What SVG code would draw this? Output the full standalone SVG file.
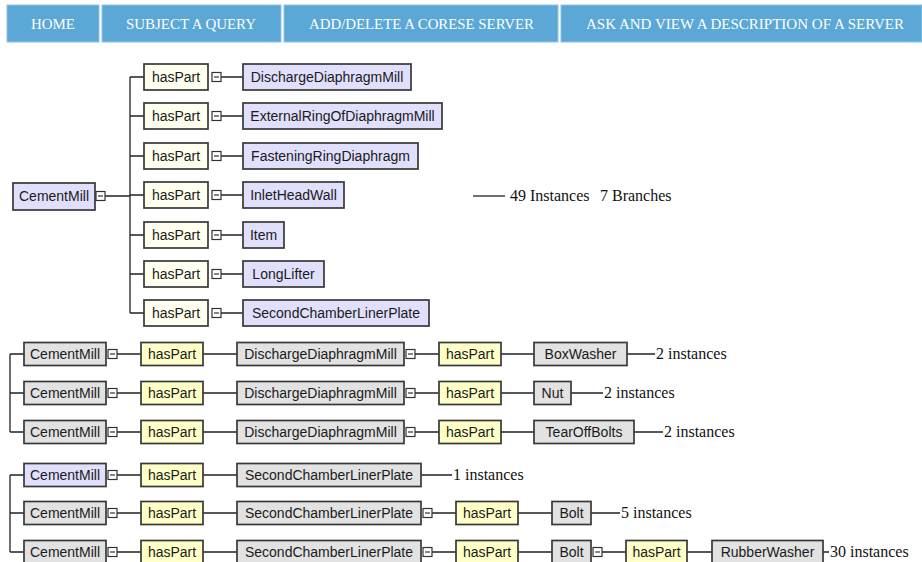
<svg xmlns="http://www.w3.org/2000/svg" width="922" height="562" viewBox="0 0 922 562">
<style>
.nav{fill:#5BA7D5;stroke:#8FC4E6;stroke-width:1}
.navt{font-family:"Liberation Serif","DejaVu Serif",serif;font-size:15px;fill:#fff;text-anchor:middle}
.box{stroke:#383838;stroke-width:1.7}
.cls{fill:#E0E0FC}
.rel{fill:#FFFFF0}
.relY{fill:#FFFFC8}
.gry{fill:#E2E2E2}
.lbl{font-family:"Liberation Sans",Arial,sans-serif;font-size:14px;fill:#1a1a1a;text-anchor:middle}
.cnt{font-family:"Liberation Serif","Times New Roman",serif;font-size:16px;fill:#111}
.ln{stroke:#222;stroke-width:1.3;fill:none}
.tog{fill:#fff;stroke:#333;stroke-width:1.2}
</style>
<defs>
<g id="minus"><rect class="tog" x="0" y="0" width="9" height="9"/><line x1="2" y1="4.5" x2="7" y2="4.5" stroke="#333" stroke-width="1.2"/></g>
</defs>
<rect width="922" height="562" fill="#fff"/>
<g id="navbar">
<rect class="nav" x="7" y="5" width="92" height="37"/>
<rect class="nav" x="102" y="5" width="179" height="37"/>
<rect class="nav" x="284" y="5" width="274" height="37"/>
<rect class="nav" x="561" y="5" width="361" height="37"/>
<text class="navt" x="53" y="29" textLength="44" lengthAdjust="spacingAndGlyphs">HOME</text>
<text class="navt" x="191" y="29" textLength="130" lengthAdjust="spacingAndGlyphs">SUBJECT A QUERY</text>
<text class="navt" x="421.5" y="29" textLength="225" lengthAdjust="spacingAndGlyphs">ADD/DELETE A CORESE SERVER</text>
<text class="navt" x="745" y="29" textLength="318" lengthAdjust="spacingAndGlyphs">ASK AND VIEW A DESCRIPTION OF A SERVER</text>
</g>
<g id="connectors">
<path class="ln" d="M105 196H130M130 77V313M130 77H144M130 116H144M130 156H144M130 195H144M130 235H144M130 274H144M130 313H144"/>
<path class="ln" d="M221 77H243M221 116H243M221 156H243M221 195H243M221 235H243M221 274H243M221 313H243"/>
<path class="ln" d="M473 196H505"/>
<path class="ln" d="M10 354V432M10 354H24M10 393H24M10 432H24"/>
<path class="ln" d="M117 354H141M203 354H237M415 354H439M501 354H534M627 354H655"/>
<path class="ln" d="M117 393H141M203 393H237M415 393H439M501 393H534M571 393H603"/>
<path class="ln" d="M117 432H141M203 432H237M415 432H439M501 432H534M634 432H663"/>
<path class="ln" d="M10 475V552M10 475H24M10 513H24M10 552H24"/>
<path class="ln" d="M117 475H141M203 475H237M421 475H452"/>
<path class="ln" d="M117 513H141M203 513H237M432 513H456M518 513H552M591 513H620"/>
<path class="ln" d="M117 552H141M203 552H237M432 552H456M518 552H552M602 552H626M687 552H712M823 552H829"/>
</g>
<g id="root-cementmill"><rect class="box cls" x="13" y="183" width="82" height="27"/><text class="lbl" x="54" y="201">CementMill</text><use href="#minus" x="96" y="191.5"/></g>
<g id="t-rel1"><rect class="box rel" x="144" y="64" width="64" height="26"/><text class="lbl" x="176" y="82">hasPart</text><use href="#minus" x="212" y="72.5"/></g>
<g id="t-rel2"><rect class="box rel" x="144" y="103" width="64" height="26"/><text class="lbl" x="176" y="121">hasPart</text><use href="#minus" x="212" y="111.5"/></g>
<g id="t-rel3"><rect class="box rel" x="144" y="143" width="64" height="26"/><text class="lbl" x="176" y="161">hasPart</text><use href="#minus" x="212" y="151.5"/></g>
<g id="t-rel4"><rect class="box rel" x="144" y="182" width="64" height="26"/><text class="lbl" x="176" y="200">hasPart</text><use href="#minus" x="212" y="190.5"/></g>
<g id="t-rel5"><rect class="box rel" x="144" y="222" width="64" height="26"/><text class="lbl" x="176" y="240">hasPart</text><use href="#minus" x="212" y="230.5"/></g>
<g id="t-rel6"><rect class="box rel" x="144" y="261" width="64" height="26"/><text class="lbl" x="176" y="279">hasPart</text><use href="#minus" x="212" y="269.5"/></g>
<g id="t-rel7"><rect class="box rel" x="144" y="300" width="64" height="26"/><text class="lbl" x="176" y="318">hasPart</text><use href="#minus" x="212" y="308.5"/></g>
<g id="t-discharge"><rect class="box cls" x="243" y="64" width="168" height="26"/><text class="lbl" x="327" y="82">DischargeDiaphragmMill</text></g>
<g id="t-externalring"><rect class="box cls" x="243" y="103" width="199" height="26"/><text class="lbl" x="342.5" y="121">ExternalRingOfDiaphragmMill</text></g>
<g id="t-fastening"><rect class="box cls" x="243" y="143" width="175" height="26"/><text class="lbl" x="330.5" y="161">FasteningRingDiaphragm</text></g>
<g id="t-inlet"><rect class="box cls" x="243" y="182" width="101" height="26"/><text class="lbl" x="293.5" y="200">InletHeadWall</text></g>
<g id="t-item"><rect class="box cls" x="243" y="222" width="41" height="26"/><text class="lbl" x="263.5" y="240">Item</text></g>
<g id="t-longlifter"><rect class="box cls" x="243" y="261" width="81" height="26"/><text class="lbl" x="283.5" y="279">LongLifter</text></g>
<g id="t-secondchamber"><rect class="box cls" x="243" y="300" width="186" height="26"/><text class="lbl" x="336" y="318">SecondChamberLinerPlate</text></g>
<g id="t-summary"><text class="cnt" y="201"><tspan x="510">49 Instances</tspan><tspan x="600">7 Branches</tspan></text></g>
<g id="r1-cementmill"><rect class="box gry" x="24" y="342.5" width="82" height="23"/><text class="lbl" x="65" y="359">CementMill</text><use href="#minus" x="108" y="349.5"/></g>
<g id="r1-rel1"><rect class="box relY" x="141" y="342.5" width="62" height="23"/><text class="lbl" x="172" y="359">hasPart</text></g>
<g id="r1-discharge"><rect class="box gry" x="237" y="342.5" width="167" height="23"/><text class="lbl" x="320.5" y="359">DischargeDiaphragmMill</text><use href="#minus" x="406" y="349.5"/></g>
<g id="r1-rel2"><rect class="box relY" x="439" y="342.5" width="62" height="23"/><text class="lbl" x="470" y="359">hasPart</text></g>
<g id="r1-boxwasher"><rect class="box gry" x="534" y="342.5" width="93" height="23"/><text class="lbl" x="580.5" y="359">BoxWasher</text></g>
<text class="cnt" x="656" y="359">2 instances</text>
<g id="r2-cementmill"><rect class="box gry" x="24" y="381.5" width="82" height="23"/><text class="lbl" x="65" y="398">CementMill</text><use href="#minus" x="108" y="388.5"/></g>
<g id="r2-rel1"><rect class="box relY" x="141" y="381.5" width="62" height="23"/><text class="lbl" x="172" y="398">hasPart</text></g>
<g id="r2-discharge"><rect class="box gry" x="237" y="381.5" width="167" height="23"/><text class="lbl" x="320.5" y="398">DischargeDiaphragmMill</text><use href="#minus" x="406" y="388.5"/></g>
<g id="r2-rel2"><rect class="box relY" x="439" y="381.5" width="62" height="23"/><text class="lbl" x="470" y="398">hasPart</text></g>
<g id="r2-nut"><rect class="box gry" x="534" y="381.5" width="37" height="23"/><text class="lbl" x="552.5" y="398">Nut</text></g>
<text class="cnt" x="604" y="398">2 instances</text>
<g id="r3-cementmill"><rect class="box gry" x="24" y="420.5" width="82" height="23"/><text class="lbl" x="65" y="437">CementMill</text><use href="#minus" x="108" y="427.5"/></g>
<g id="r3-rel1"><rect class="box relY" x="141" y="420.5" width="62" height="23"/><text class="lbl" x="172" y="437">hasPart</text></g>
<g id="r3-discharge"><rect class="box gry" x="237" y="420.5" width="167" height="23"/><text class="lbl" x="320.5" y="437">DischargeDiaphragmMill</text><use href="#minus" x="406" y="427.5"/></g>
<g id="r3-rel2"><rect class="box relY" x="439" y="420.5" width="62" height="23"/><text class="lbl" x="470" y="437">hasPart</text></g>
<g id="r3-tearoff"><rect class="box gry" x="534" y="420.5" width="100" height="23"/><text class="lbl" x="584" y="437">TearOffBolts</text></g>
<text class="cnt" x="664" y="437">2 instances</text>
<g id="r4-cementmill"><rect class="box cls" x="24" y="463.5" width="82" height="23"/><text class="lbl" x="65" y="480">CementMill</text><use href="#minus" x="108" y="470.5"/></g>
<g id="r4-rel1"><rect class="box relY" x="141" y="463.5" width="62" height="23"/><text class="lbl" x="172" y="480">hasPart</text></g>
<g id="r4-secondchamber"><rect class="box gry" x="237" y="463.5" width="184" height="23"/><text class="lbl" x="329" y="480">SecondChamberLinerPlate</text></g>
<text class="cnt" x="453" y="480">1 instances</text>
<g id="r5-cementmill"><rect class="box gry" x="24" y="501.5" width="82" height="23"/><text class="lbl" x="65" y="518">CementMill</text><use href="#minus" x="108" y="508.5"/></g>
<g id="r5-rel1"><rect class="box relY" x="141" y="501.5" width="62" height="23"/><text class="lbl" x="172" y="518">hasPart</text></g>
<g id="r5-secondchamber"><rect class="box gry" x="237" y="501.5" width="184" height="23"/><text class="lbl" x="329" y="518">SecondChamberLinerPlate</text><use href="#minus" x="423" y="508.5"/></g>
<g id="r5-rel2"><rect class="box relY" x="456" y="501.5" width="62" height="23"/><text class="lbl" x="487" y="518">hasPart</text></g>
<g id="r5-bolt"><rect class="box gry" x="552" y="501.5" width="39" height="23"/><text class="lbl" x="571.5" y="518">Bolt</text></g>
<text class="cnt" x="621" y="518">5 instances</text>
<g id="r6-cementmill"><rect class="box gry" x="24" y="540.5" width="82" height="23"/><text class="lbl" x="65" y="557">CementMill</text><use href="#minus" x="108" y="547.5"/></g>
<g id="r6-rel1"><rect class="box relY" x="141" y="540.5" width="62" height="23"/><text class="lbl" x="172" y="557">hasPart</text></g>
<g id="r6-secondchamber"><rect class="box gry" x="237" y="540.5" width="184" height="23"/><text class="lbl" x="329" y="557">SecondChamberLinerPlate</text><use href="#minus" x="423" y="547.5"/></g>
<g id="r6-rel2"><rect class="box relY" x="456" y="540.5" width="62" height="23"/><text class="lbl" x="487" y="557">hasPart</text></g>
<g id="r6-bolt"><rect class="box gry" x="552" y="540.5" width="39" height="23"/><text class="lbl" x="571.5" y="557">Bolt</text><use href="#minus" x="593" y="547.5"/></g>
<g id="r6-rel3"><rect class="box relY" x="626" y="540.5" width="61" height="23"/><text class="lbl" x="656.5" y="557">hasPart</text></g>
<g id="r6-rubberwasher"><rect class="box gry" x="712" y="540.5" width="111" height="23"/><text class="lbl" x="767.5" y="557">RubberWasher</text></g>
<text class="cnt" x="830" y="557">30 instances</text>
</svg>
